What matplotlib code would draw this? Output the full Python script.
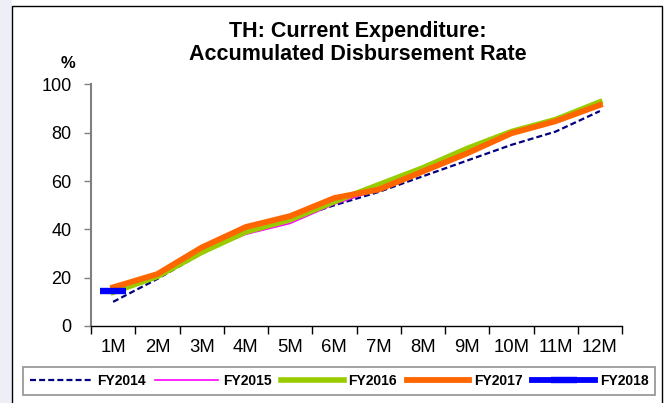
import matplotlib
matplotlib.use("Agg")
import matplotlib.pyplot as plt
from matplotlib.patches import Rectangle

plt.rcParams['font.family'] = ['Liberation Sans', 'DejaVu Sans']

months = ['1M', '2M', '3M', '4M', '5M', '6M', '7M', '8M', '9M', '10M', '11M', '12M']
fy2014 = [10, 19.5, 30, 38.5, 44, 50, 55.5, 62, 68.5, 75, 80.5, 89]
fy2015 = [14, 20.5, 30.5, 38, 42.5, 50.5, 56.5, 64, 72.5, 80, 85, 92]
fy2016 = [14, 20.5, 30.5, 39, 44, 51.5, 58.5, 65.5, 73.5, 80.5, 85.5, 92.8]
fy2017 = [16, 21.5, 32.5, 41, 45.5, 53, 56.5, 64, 71.5, 79.8, 84.8, 91.5]
fy2018 = [14.5]

W, H = 670, 403
fig = plt.figure(figsize=(W / 100, H / 100), dpi=100)
fig.patch.set_facecolor('white')

# pale strip on the left and the black frame round the chart
fig.add_artist(Rectangle((0, 0), 12 / W, 1, transform=fig.transFigure,
                         facecolor='#EEEEF6', edgecolor='none'))
fig.add_artist(Rectangle((12 / W, -0.01), 650 / W, 1 - 6 / H + 0.01,
                         transform=fig.transFigure, facecolor='none',
                         edgecolor='black', lw=1))

ax = fig.add_axes([91 / W, 77 / H, 531 / W, 241.5 / H])
x = list(range(1, len(months) + 1))

ax.plot(x, fy2014, color='#000080', lw=1.6, ls=(0, (2.7, 1.4)), label='FY2014')
ax.plot(x, fy2015, color='#FF00FF', lw=1.2, label='FY2015')
ax.plot(x, fy2016, color='#99CC00', lw=4.0, label='FY2016')
ax.plot(x, fy2017, color='#FF6600', lw=4.2, label='FY2017')
ax.plot(x[:len(fy2018)], fy2018, color='#0000FF', lw=4.2, marker='_',
        ms=19, mew=4.6, label='FY2018')

ax.set_xlim(0.5, 12.5)
ax.set_ylim(0, 100)
ax.set_yticks(range(0, 101, 20))
ax.tick_params(axis='y', labelsize=13, length=5, width=1, color='#808080',
               pad=9, direction='out')

# month boundaries get the tick marks, month centres get the labels
ax.set_xticks([i + 0.5 for i in range(0, 13)])
ax.set_xticklabels([])
ax.set_xticks(x, minor=True)
ax.set_xticklabels(months, minor=True)
ax.tick_params(axis='x', which='major', length=6, width=1, color='black')
ax.tick_params(axis='x', which='minor', length=0, labelsize=13.3, pad=9)

for side in ('top', 'right'):
    ax.spines[side].set_visible(False)
ax.spines['left'].set_color('#808080')
ax.spines['left'].set_linewidth(1.5)
ax.spines['bottom'].set_color('black')
ax.spines['bottom'].set_linewidth(1)

fig.text(358 / W, 1 - 32 / H, 'TH: Current Expenditure:', ha='center',
         va='center', fontsize=15.5, fontweight='bold')
fig.text(358 / W, 1 - 55 / H, 'Accumulated Disbursement Rate', ha='center',
         va='center', fontsize=15.5, fontweight='bold')
fig.text(68 / W, 1 - 63 / H, '%', ha='center', va='center', fontsize=12,
         fontweight='bold')

leg = fig.legend(loc='center', bbox_to_anchor=(339 / W, 1 - 381 / H), ncol=5,
                 prop={'weight': 'bold', 'size': 10}, handlelength=4.5,
                 handletextpad=0.35, columnspacing=0.7, frameon=True,
                 fancybox=False, borderpad=0.5, borderaxespad=0)
leg.get_frame().set_edgecolor('#808080')
leg.get_frame().set_linewidth(1.3)

fig.savefig('out.png', dpi=100)
